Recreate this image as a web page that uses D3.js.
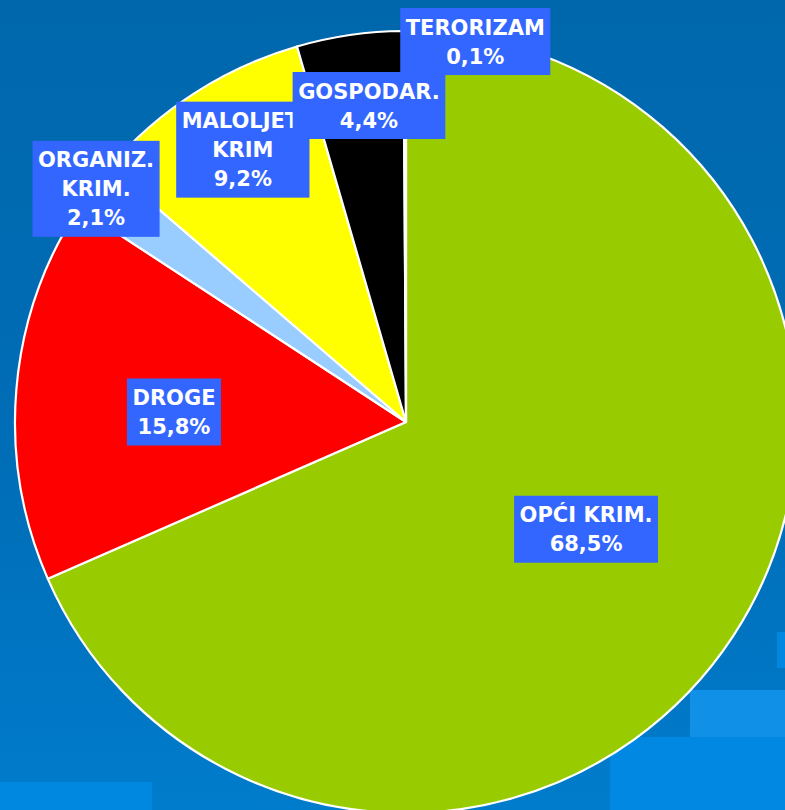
<!DOCTYPE html>
<html>
<head>
<meta charset="utf-8">
<script src="https://cdn.jsdelivr.net/npm/d3@7"></script>
<style>
  html, body { margin: 0; padding: 0; overflow: hidden; }
  body { width: 785px; height: 810px; }
  .lbl { font-family: "DejaVu Sans", Verdana, sans-serif; font-weight: bold; font-size: 21px; fill: #fff; }
</style>
</head>
<body>
<div id="root"></div>
<script>
// Chart data (clockwise from 12 o'clock).
const categories = ['OPĆI KRIM.', 'DROGE', 'ORGANIZ. KRIM.', 'MALOLJET. KRIM', 'GOSPODAR.', 'TERORIZAM'];
const shares = [68.5, 15.8, 2.1, 9.2, 4.4, 0.1];
const valueLabels = ['68,5%', '15,8%', '2,1%', '9,2%', '4,4%', '0,1%'];
const labelLines = [['OPĆI KRIM.'], ['DROGE'], ['ORGANIZ.', 'KRIM.'], ['MALOLJET.', 'KRIM'], ['GOSPODAR.'], ['TERORIZAM']];
const colors = ['#99cc00', '#ff0000', '#99ccff', '#ffff00', '#000000', '#6699ff'];

// Label placement: fraction of radius, angle nudge in degrees.
const labelRadius = [0.536, 0.594, 0.992, 0.812, 0.815, 0.989];
const labelNudge = [-2.4, -2.3, 0, 1.8, 1.6, 10.5];

const width = 785;
const height = 810;
const cx = 406, cy = 422, radius = 391;
const lineH = 29;

const svg = d3.select('#root')
  .append('svg')
  .attr('width', width)
  .attr('height', height);

// Background gradient.
const defs = svg.append('defs');
const grad = defs.append('linearGradient')
  .attr('id', 'bg')
  .attr('x1', 0).attr('y1', 0).attr('x2', 0).attr('y2', 1);
grad.append('stop').attr('offset', '0%').attr('stop-color', '#0067ac');
grad.append('stop').attr('offset', '60%').attr('stop-color', '#006eb8');
grad.append('stop').attr('offset', '100%').attr('stop-color', '#007ccc');

svg.append('rect')
  .attr('width', width)
  .attr('height', height)
  .attr('fill', 'url(#bg)');

// Decorative lighter patches at the bottom of the slide.
const deco = svg.append('g').attr('class', 'deco');
deco.append('rect').attr('x', 0).attr('y', 782).attr('width', 152).attr('height', 28).attr('fill', '#0088e0');
deco.append('rect').attr('x', 690).attr('y', 690).attr('width', 95).attr('height', 56).attr('fill', '#1190e8');
deco.append('rect').attr('x', 610).attr('y', 737).attr('width', 175).attr('height', 73).attr('fill', '#0088e2');
deco.append('rect').attr('x', 777).attr('y', 632).attr('width', 8).attr('height', 36).attr('fill', '#0088e0');

const pie = d3.pie().sort(null).value(d => d);
const arcs = pie(shares);

const arc = d3.arc().innerRadius(0).outerRadius(radius);

const g = svg.append('g').attr('transform', `translate(${cx}, ${cy})`);

g.selectAll('path.slice')
  .data(arcs)
  .enter()
  .append('path')
  .attr('class', 'slice')
  .attr('d', arc)
  .attr('fill', (d, i) => colors[i])
  .attr('stroke', '#ffffff')
  .attr('stroke-width', 2.2)
  .attr('stroke-linejoin', 'round');

// Labels in blue boxes.
const labels = g.selectAll('g.label')
  .data(arcs)
  .enter()
  .append('g')
  .attr('class', 'label')
  .attr('transform', function (d, i) {
    const a = (d.startAngle + d.endAngle) / 2 + labelNudge[i] * Math.PI / 180;
    const r = radius * labelRadius[i];
    return `translate(${r * Math.sin(a)}, ${-r * Math.cos(a)})`;
  });

labels.each(function (d, i) {
  const sel = d3.select(this);
  const lines = labelLines[i].concat([valueLabels[i]]);
  const box = sel.append('rect').attr('fill', '#3366ff');
  const txt = sel.append('text')
    .attr('class', 'lbl')
    .attr('text-anchor', 'middle');
  lines.forEach(function (t, k) {
    txt.append('tspan')
      .attr('x', 0)
      .attr('y', (k - (lines.length - 1) / 2) * lineH)
      .attr('dy', '0.36em')
      .text(t);
  });
  const w = txt.node().getBBox().width + 11;
  const h = lines.length * lineH + 9;
  box.attr('x', -w / 2).attr('y', -h / 2).attr('width', w).attr('height', h);
});

// Gospodar. box sits on top of the maloljet label, as on the slide.
labels.filter((d, i) => i === 4).raise();
</script>
</body>
</html>
